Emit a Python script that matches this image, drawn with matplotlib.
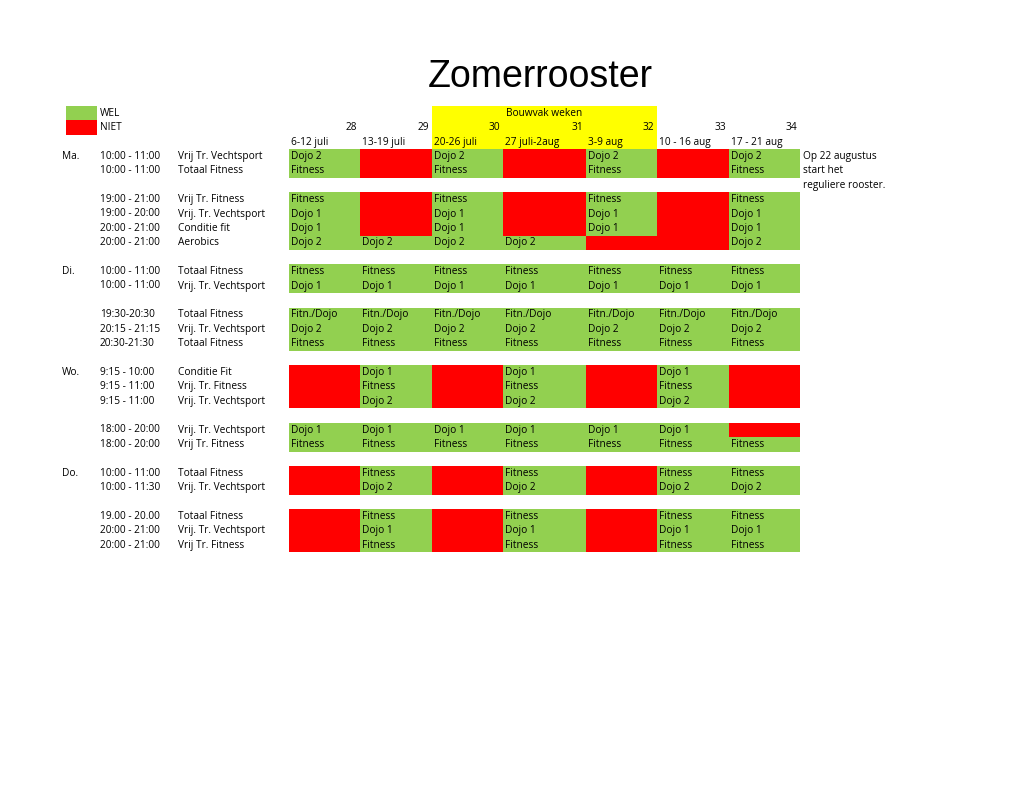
import matplotlib.pyplot as plt
from matplotlib.patches import Rectangle

plt.rcParams["font.family"] = ["Open Sans", "DejaVu Sans"]

GREEN = "#92D050"
RED = "#FF0000"
YELLOW = "#FFFF00"

week_numbers = ["28", "29", "30", "31", "32", "33", "34"]
week_dates = ["6-12 juli", "13-19 juli", "20-26 juli", "27 juli-2aug", "3-9 aug", "10 - 16 aug", "17 - 21 aug"]
col_edges = [289, 360, 432, 503, 586, 657, 729, 800]

# (row index, day, time, activity, cells per week; None = NIET)
F, D1, D2, FD = "Fitness", "Dojo 1", "Dojo 2", "Fitn./Dojo"
N = None
rows = [
    (3, "Ma.", "10:00 - 11:00", "Vrij Tr. Vechtsport", [D2, N, D2, N, D2, N, D2]),
    (4, "", "10:00 - 11:00", "Totaal Fitness", [F, N, F, N, F, N, F]),
    (6, "", "19:00 - 21:00", "Vrij Tr. Fitness", [F, N, F, N, F, N, F]),
    (7, "", "19:00 - 20:00", "Vrij. Tr. Vechtsport", [D1, N, D1, N, D1, N, D1]),
    (8, "", "20:00 - 21:00", "Conditie fit", [D1, N, D1, N, D1, N, D1]),
    (9, "", "20:00 - 21:00", "Aerobics", [D2, D2, D2, D2, N, N, D2]),
    (11, "Di.", "10:00 - 11:00", "Totaal Fitness", [F] * 7),
    (12, "", "10:00 - 11:00", "Vrij. Tr. Vechtsport", [D1] * 7),
    (14, "", "19:30-20:30", "Totaal Fitness", [FD] * 7),
    (15, "", "20:15 - 21:15", "Vrij. Tr. Vechtsport", [D2] * 7),
    (16, "", "20:30-21:30", "Totaal Fitness", [F] * 7),
    (18, "Wo.", "9:15 - 10:00", "Conditie Fit", [N, D1, N, D1, N, D1, N]),
    (19, "", "9:15 - 11:00", "Vrij. Tr. Fitness", [N, F, N, F, N, F, N]),
    (20, "", "9:15 - 11:00", "Vrij. Tr. Vechtsport", [N, D2, N, D2, N, D2, N]),
    (22, "", "18:00 - 20:00", "Vrij. Tr. Vechtsport", [D1] * 6 + [N]),
    (23, "", "18:00 - 20:00", "Vrij Tr. Fitness", [F] * 7),
    (25, "Do.", "10:00 - 11:00", "Totaal Fitness", [N, F, N, F, N, F, F]),
    (26, "", "10:00 - 11:30", "Vrij. Tr. Vechtsport", [N, D2, N, D2, N, D2, D2]),
    (28, "", "19.00 - 20.00", "Totaal Fitness", [N, F, N, F, N, F, F]),
    (29, "", "20:00 - 21:00", "Vrij. Tr. Vechtsport", [N, D1, N, D1, N, D1, D1]),
    (30, "", "20:00 - 21:00", "Vrij Tr. Fitness", [N, F, N, F, N, F, F]),
]
note = ["Op 22 augustus", "start het", "reguliere rooster."]

Y0, RH = 106, 14.4
FS = 7.3


def row_top(r):
    return Y0 + r * RH


fig = plt.figure(figsize=(10.24, 7.91), dpi=100)
ax = fig.add_axes([0, 0, 1, 1])
ax.set_xlim(0, 1024)
ax.set_ylim(791, 0)
ax.axis("off")

ax.text(540, 77, "Zomerrooster", fontsize=27, ha="center", va="center",
        family=["Liberation Sans", "DejaVu Sans"])

# legend
ax.add_patch(Rectangle((66, row_top(0)), 31, RH, color=GREEN, lw=0))
ax.add_patch(Rectangle((66, row_top(1)), 31, RH, color=RED, lw=0))
ax.text(100, row_top(0) + RH / 2, "WEL", fontsize=FS, va="center")
ax.text(100, row_top(1) + RH / 2, "NIET", fontsize=FS, va="center")

# bouwvak header
ax.add_patch(Rectangle((col_edges[2], row_top(0)), col_edges[5] - col_edges[2], 3 * RH,
                       color=YELLOW, lw=0))
ax.text((col_edges[2] + col_edges[5]) / 2, row_top(0) + RH / 2, "Bouwvak weken",
        fontsize=FS, ha="center", va="center")
for i, (wn, wd) in enumerate(zip(week_numbers, week_dates)):
    ax.text(col_edges[i + 1] - 3, row_top(1) + RH / 2, wn, fontsize=FS, ha="right", va="center")
    ax.text(col_edges[i] + 2, row_top(2) + RH / 2, wd, fontsize=FS, va="center")

for r, day, time, act, cells in rows:
    yc = row_top(r) + RH / 2
    if day:
        ax.text(62, yc, day, fontsize=FS, va="center")
    ax.text(100, yc, time, fontsize=FS, va="center")
    ax.text(178, yc, act, fontsize=FS, va="center")
    for i, c in enumerate(cells):
        x0, x1 = col_edges[i], col_edges[i + 1]
        ax.add_patch(Rectangle((x0, row_top(r)), x1 - x0, RH,
                               color=RED if c is None else GREEN, lw=0))
        if c:
            ax.text(x0 + 2, yc, c, fontsize=FS, va="center")

for k, line in enumerate(note):
    ax.text(803, row_top(3 + k) + RH / 2, line, fontsize=FS, va="center")

fig.savefig("out.png", dpi=100)
